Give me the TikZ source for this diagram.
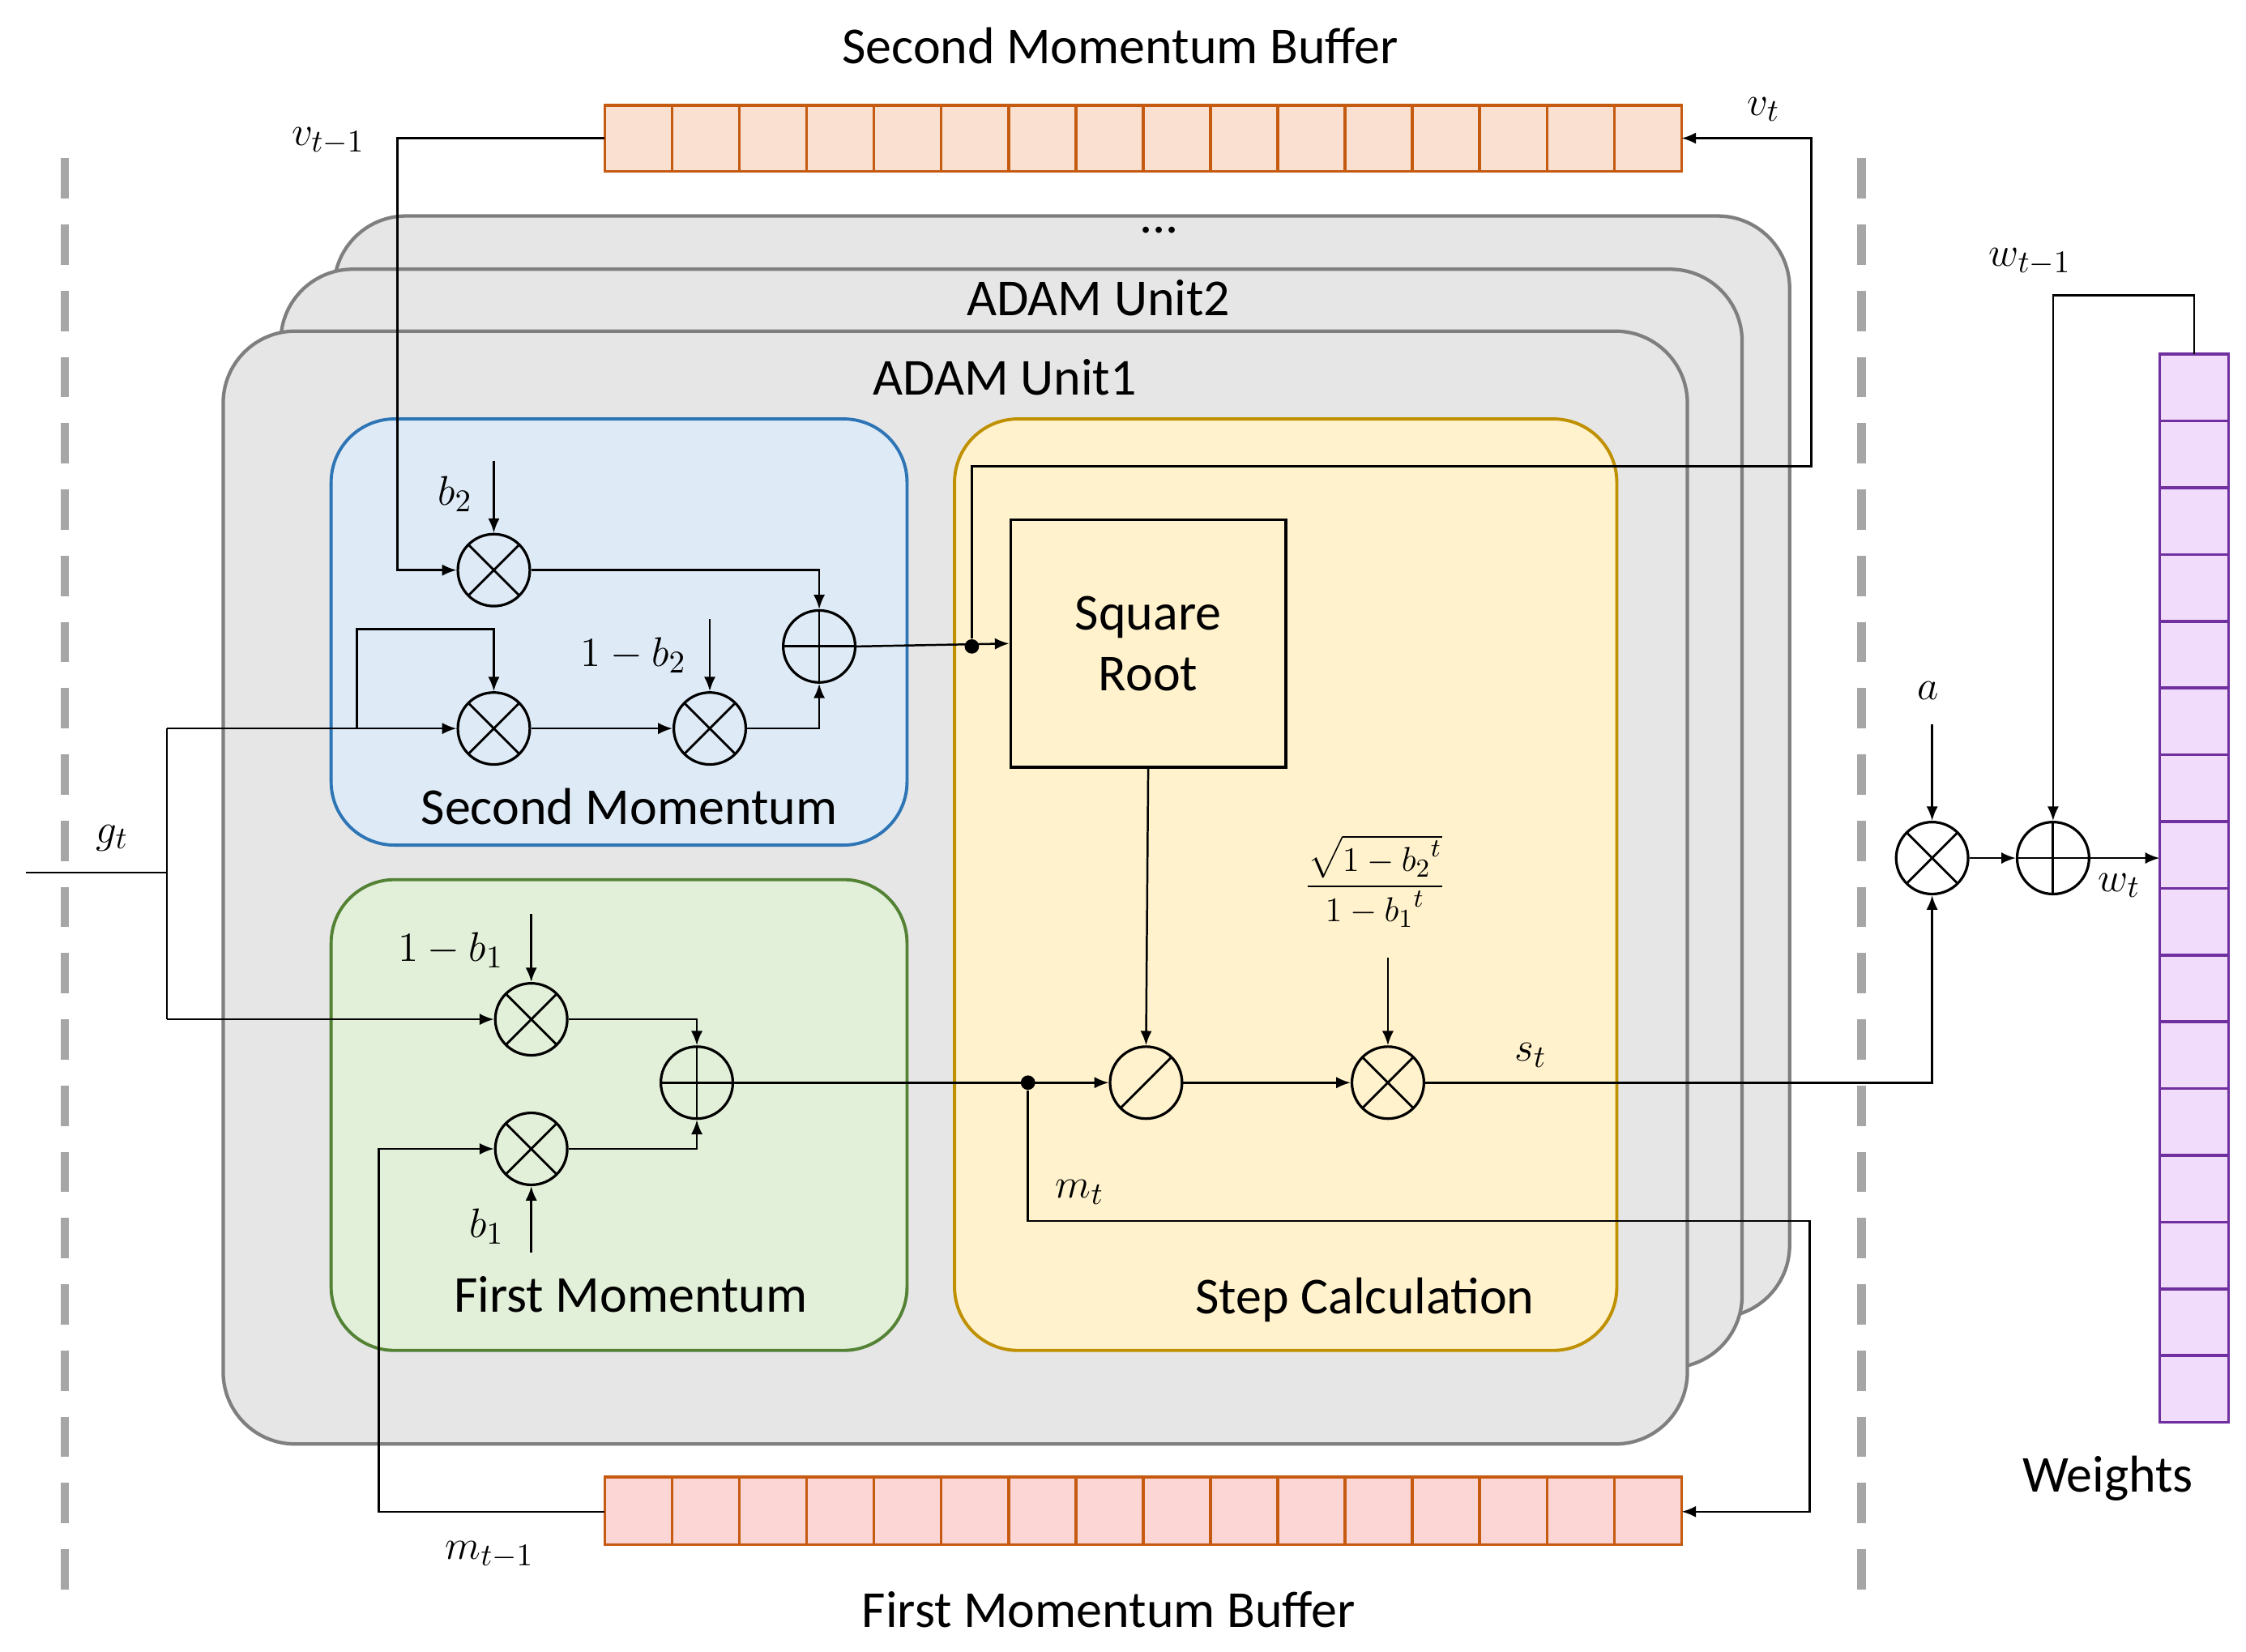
\documentclass[tikz,border=0pt]{standalone}
\usepackage{amsmath}
\usepackage{fontspec}
\setmainfont{Carlito}
\usetikzlibrary{arrows.meta,calc}
\definecolor{unitfill}{HTML}{E6E6E6}
\definecolor{unitdraw}{HTML}{7F7F7F}
\definecolor{smfill}{HTML}{DEEBF7}
\definecolor{smdraw}{HTML}{2E75B6}
\definecolor{fmfill}{HTML}{E2F0D9}
\definecolor{fmdraw}{HTML}{548235}
\definecolor{scfill}{HTML}{FFF2CC}
\definecolor{scdraw}{HTML}{BF9000}
\definecolor{bufdraw}{HTML}{C55A11}
\definecolor{vbfill}{HTML}{F9E0D0}
\definecolor{mbfill}{HTML}{FCD5D5}
\definecolor{wfill}{HTML}{F2DCFB}
\definecolor{wdraw}{HTML}{7030A0}
\begin{document}
\begin{tikzpicture}[x=0.5pt,y=-0.5pt,
  txt/.style={font=\fontsize{18}{21}\selectfont},
  lbl/.style={font=\fontsize{15}{18}\selectfont,inner sep=1pt},
  wire/.style={line width=0.7pt},
  arr/.style={wire,-{Latex[length=5pt,width=4pt]}},
  op/.style={circle,draw,line width=0.9pt,minimum size=25pt,inner sep=0pt},
  otimes/.style={op,path picture={\draw[line width=0.8pt] (path picture bounding box.north west)--(path picture bounding box.south east) (path picture bounding box.north east)--(path picture bounding box.south west);}},
  oplus/.style={op,path picture={\draw[line width=0.8pt] (path picture bounding box.north)--(path picture bounding box.south) (path picture bounding box.west)--(path picture bounding box.east);}},
  oslash/.style={op,path picture={\draw[line width=0.8pt] (path picture bounding box.north east)--(path picture bounding box.south west);}},
  unit/.style={fill=unitfill,draw=unitdraw,line width=1.2pt,rounded corners=25pt},
  sub/.style={line width=1.1pt,rounded corners=22pt},
  dot/.style={circle,fill,inner sep=0pt,minimum size=5pt}]
\useasboundingbox (0,0) rectangle (1560,1147);
% dashed separators
\draw[gray!70,line width=3pt,dash pattern=on 14pt off 9pt] (45,110)--(45,1112);
\draw[gray!70,line width=3pt,dash pattern=on 14pt off 9pt] (1293,110)--(1293,1112);
% units
\draw[unit] (232,150) rectangle (1243,915);
\draw[unit] (195,187) rectangle (1210,950);
\draw[unit] (155,230) rectangle (1172,1003);
\node[txt] (dots) at (805,160) {...};
\node[txt] (u2) at (763,207) {ADAM Unit2};
\node[txt] (u1) at (698,262) {ADAM Unit1};
% sub boxes
\draw[sub,fill=smfill,draw=smdraw] (230,291) rectangle (630,587);
\draw[sub,fill=fmfill,draw=fmdraw] (230,611) rectangle (630,938);
\draw[sub,fill=scfill,draw=scdraw] (663,291) rectangle (1123,938);
\node[txt] (smlab) at (437,560) {Second Momentum};
\node[txt] (fmlab) at (438,899) {First Momentum};
\node[txt] (sclab) at (948,903) {Step Calculation};
\node[draw,line width=1pt,minimum width=95.5pt,minimum height=86pt,align=center,txt] (sq) at (797.5,447) {Square\\Root};
% buffers
\foreach \i in {0,...,15}{
 \draw[fill=vbfill,draw=bufdraw,line width=1pt] (420+\i*46.75,73) rectangle (420+\i*46.75+46.75,119);
 \draw[fill=mbfill,draw=bufdraw,line width=1pt] (420+\i*46.75,1026) rectangle (420+\i*46.75+46.75,1073);
 \draw[fill=wfill,draw=wdraw,line width=1pt] (1500,246+\i*46.375) rectangle (1548,246+\i*46.375+46.375);}
\coordinate (vbL) at (420,96); \coordinate (vbR) at (1168,96);
\coordinate (mbL) at (420,1050); \coordinate (mbR) at (1168,1050);
\coordinate (wtop) at (1524,246); \coordinate (wL) at (1500,596);
\node[txt] (vbt) at (778,32) {Second Momentum Buffer};
\node[txt] (mbt) at (770,1118) {First Momentum Buffer};
\node[txt] (wt) at (1464,1027) {Weights};
% operators
\node[otimes] (m1) at (343,396) {};
\node[otimes] (m2) at (343,506) {};
\node[otimes] (m3) at (493,506) {};
\node[oplus] (a1) at (569,449) {};
\node[otimes] (f1) at (369,708) {};
\node[otimes] (f2) at (369,798) {};
\node[oplus] (fa) at (484,752) {};
\node[oslash] (dv) at (796,752) {};
\node[otimes] (ml) at (964,752) {};
\node[otimes] (am) at (1342,596) {};
\node[oplus] (ap) at (1426,596) {};
% labels
\node[lbl] (lv1) at (228,98) {$v_{t-1}$};
\node[lbl] (lvt) at (1225,76) {$v_t$};
\node[lbl] (lb2) at (316,343) {$b_2$};
\node[lbl] (l1b2) at (440,455) {$1-b_2$};
\node[lbl] (lgt) at (78,582) {$g_t$};
\node[lbl] (l1b1) at (313,660) {$1-b_1$};
\node[lbl] (lb1) at (338,852) {$b_1$};
\node[lbl] (lm1) at (340,1080) {$m_{t-1}$};
\node[lbl] (lmt) at (750,828) {$m_t$};
\node[lbl] (lst) at (1063,733) {$s_t$};
\node[lbl] (la) at (1339,480) {$a$};
\node[lbl] (lw1) at (1410,182) {$w_{t-1}$};
\node[lbl] (lwt) at (1472,615) {$w_t$};
\node[font=\fontsize{13}{15}\selectfont,inner sep=1pt] (frac) at (955,612) {$\dfrac{\sqrt{1-{b_2}^t}}{1-{b_1}^t}$};
% coordinates
\coordinate (b2s) at (343,320);
\coordinate (b12s) at (493,430);
\coordinate (gin) at (18,606);
\coordinate (gj) at (116,606);
\coordinate (d1) at (248,506);
\coordinate (b11s) at (369,635);
\coordinate (b1s) at (369,870);
\coordinate (fs) at (964,665);
\coordinate (as) at (1342,503);
\node[dot] (dA) at (675,449) {};
\node[dot] (dM) at (714,752) {};
% wires
\draw[arr] (vbL) -| (276,396) -- (m1.west);
\draw[arr] (b2s) -- (m1.north);
\draw[wire] (gin) -- (gj);
\draw[wire] (116,506) -- (116,708);
\draw[arr] (116,708) -- (f1.west);
\draw[arr] (116,506) -- (m2.west);
\draw[arr] (d1) |- (343,437) -- (m2.north);
\draw[arr] (m2.east) -- (m3.west);
\draw[arr] (b12s) -- (m3.north);
\draw[arr] (m1.east) -| (a1.north);
\draw[arr] (m3.east) -| (a1.south);
\draw[arr] (a1.east) -- (sq.west);
\draw[arr] (dA) |- (1258,324) |- (vbR);
\draw[arr] (sq.south) -- (dv.north);
\draw[arr] (b11s) -- (f1.north);
\draw[arr] (f1.east) -| (fa.north);
\draw[arr] (f2.east) -| (fa.south);
\draw[arr] (b1s) -- (f2.south);
\draw[arr] (mbL) -| (263,798) -- (f2.west);
\draw[arr] (fa.east) -- (dv.west);
\draw[arr] (dM) |- (1257,848) |- (mbR);
\draw[arr] (dv.east) -- (ml.west);
\draw[arr] (fs) -- (ml.north);
\draw[arr] (ml.east) -| (am.south);
\draw[arr] (as) -- (am.north);
\draw[arr] (am.east) -- (ap.west);
\draw[arr] (ap.east) -- (wL);
\draw[arr] (wtop) |- (1426,205) -- (ap.north);
\end{tikzpicture}
\end{document}
